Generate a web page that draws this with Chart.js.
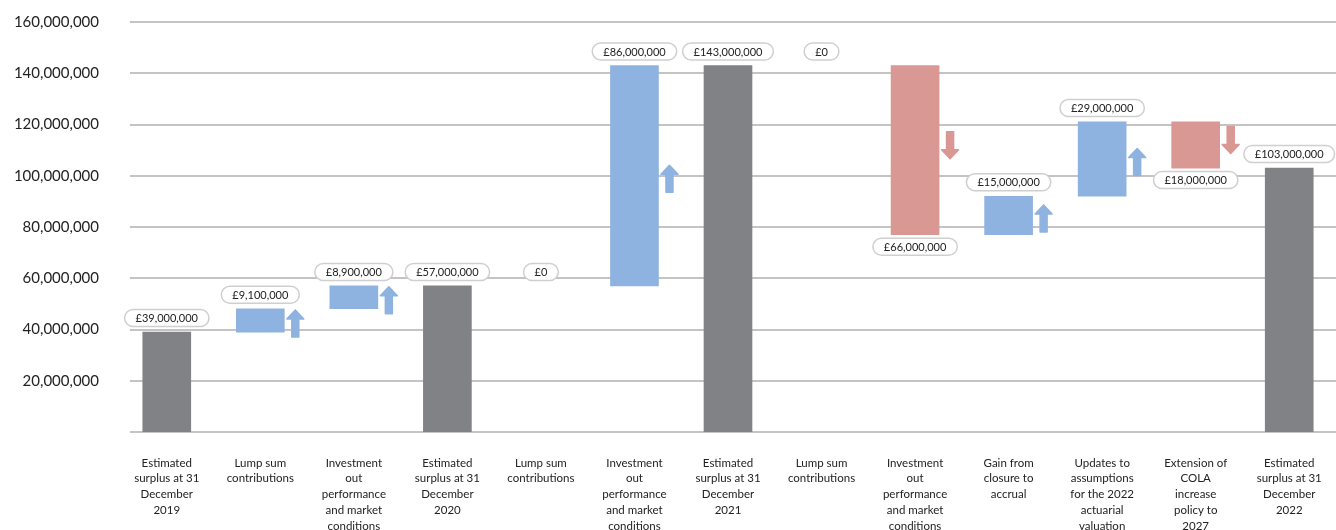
<!DOCTYPE html>
<html>
<head>
<meta charset="utf-8">
<script src="https://cdn.jsdelivr.net/npm/chart.js@4.4.1/dist/chart.umd.min.js"></script>
<style>
  html, body { margin: 0; padding: 0; background: #fff; }
  #wrap { width: 1336px; height: 530px; position: relative; }
</style>
</head>
<body>
<div id="wrap"><canvas id="chart"></canvas></div>
<script>
// Waterfall: surplus movements 2019 -> 2022
const categories = [
  ["Estimated", "surplus at 31", "December", "2019"],
  ["Lump sum", "contributions"],
  ["Investment", "out", "performance", "and market", "conditions"],
  ["Estimated", "surplus at 31", "December", "2020"],
  ["Lump sum", "contributions"],
  ["Investment", "out", "performance", "and market", "conditions"],
  ["Estimated", "surplus at 31", "December", "2021"],
  ["Lump sum", "contributions"],
  ["Investment", "out", "performance", "and market", "conditions"],
  ["Gain from", "closure to", "accrual"],
  ["Updates to", "assumptions", "for the 2022", "actuarial", "valuation"],
  ["Extension of", "COLA", "increase", "policy to", "2027"],
  ["Estimated", "surplus at 31", "December", "2022"],
];
const steps = [39000000, 9100000, 8900000, 57000000, 0, 86000000, 143000000, 0, -66000000, 15000000, 29000000, -18000000, 103000000];
const isTotal = [true, false, false, true, false, false, true, false, false, false, false, false, true];
const yMin = 0;
const yMax = 160000000;
const yStep = 20000000;

const GREY = "#818286";
const BLUE = "#8fb3e0";
const RED = "#d99893";
const FONT = "Lato, 'Open Sans', sans-serif";

// running totals -> floating [from, to] ranges
let level = 0;
const ranges = steps.map((v, i) => {
  if (isTotal[i]) { level = v; return [0, v]; }
  const start = level;
  level += v;
  return [start, level];
});
const colors = steps.map((v, i) => (isTotal[i] ? GREY : v < 0 ? RED : BLUE));

const fmt = (v) => "£" + Math.abs(v).toLocaleString("en-GB");

const gridPlugin = {
  id: "grid",
  beforeDatasetsDraw(chart) {
    const { ctx, chartArea, scales } = chart;
    ctx.save();
    ctx.strokeStyle = "#c4c4c4";
    ctx.lineWidth = 2;
    scales.y.ticks.forEach((t) => {
      const y = Math.round(scales.y.getPixelForValue(t.value));
      ctx.beginPath();
      ctx.moveTo(chartArea.left + 10, y);
      ctx.lineTo(chartArea.right, y);
      ctx.stroke();
    });
    ctx.restore();
  },
};

function pill(ctx, x, y, text) {
  ctx.font = "11px " + FONT;
  const w = ctx.measureText(text).width + 22;
  const h = 17;
  ctx.beginPath();
  ctx.roundRect(x - w / 2, y - h / 2, w, h, h / 2);
  ctx.fillStyle = "#fff";
  ctx.fill();
  ctx.strokeStyle = "#cfcfcf";
  ctx.lineWidth = 1.5;
  ctx.stroke();
  ctx.fillStyle = "#222";
  ctx.textAlign = "center";
  ctx.textBaseline = "middle";
  ctx.fillText(text, x, y + 0.5);
}

function arrow(ctx, x, yMid, up, color) {
  const len = 27, shaft = 7, head = 17, headH = 9;
  const dir = up ? -1 : 1;
  const tip = yMid + dir * len / 2;
  const tail = yMid - dir * len / 2;
  const neck = tip - dir * headH;
  ctx.beginPath();
  ctx.moveTo(x, tip);
  ctx.lineTo(x + head / 2, neck);
  ctx.lineTo(x + shaft / 2, neck);
  ctx.lineTo(x + shaft / 2, tail);
  ctx.lineTo(x - shaft / 2, tail);
  ctx.lineTo(x - shaft / 2, neck);
  ctx.lineTo(x - head / 2, neck);
  ctx.closePath();
  ctx.fillStyle = color;
  ctx.lineJoin = "round";
  ctx.strokeStyle = color;
  ctx.lineWidth = 1.5;
  ctx.fill();
  ctx.stroke();
}

const labelPlugin = {
  id: "labels",
  afterDatasetsDraw(chart) {
    const { ctx, scales } = chart;
    ctx.save();
    steps.forEach((v, i) => {
      const x = scales.x.getPixelForValue(i);
      const [a, b] = ranges[i];
      const top = scales.y.getPixelForValue(Math.max(a, b));
      const bottom = scales.y.getPixelForValue(Math.min(a, b));
      if (!isTotal[i] && v !== 0) {
        arrow(ctx, x + 24 + 11, (top + bottom) / 2 + (v > 0 ? 3 : -5), v > 0, colors[i]);
      }
      const y = v < 0 ? bottom + 12 : top - 14;
      pill(ctx, x, y, fmt(v));
    });
    ctx.restore();
  },
};

new Chart(document.getElementById("chart"), {
  type: "bar",
  data: {
    labels: categories,
    datasets: [
      {
        // zero movements have no bar
        data: ranges.map((r, i) => (steps[i] === 0 ? null : r)),
        backgroundColor: colors,
        borderWidth: 0,
        barThickness: 48,
      },
    ],
  },
  options: {
    responsive: true,
    maintainAspectRatio: false,
    animation: false,
    layout: { padding: { top: 22, right: 0, bottom: 0, left: 0 } },
    plugins: { legend: { display: false }, tooltip: { enabled: false } },
    scales: {
      x: {
        grid: { display: false, drawTicks: false },
        border: { display: false },
        ticks: {
          autoSkip: false,
          maxRotation: 0,
          padding: 23,
          color: "#222",
          font: { family: FONT, size: 11.5, lineHeight: 1.37 },
        },
        afterFit(scale) {
          scale.height = 98;
          scale.paddingLeft = 0;
          scale.paddingRight = 0;
        },
      },
      y: {
        min: yMin,
        max: yMax,
        grid: { display: false, drawTicks: false },
        border: { display: false },
        ticks: {
          stepSize: yStep,
          padding: 21,
          color: "#222",
          font: { family: FONT, size: 15 },
          callback: (v) => (v === 0 ? "" : v.toLocaleString("en-GB")),
        },
        afterFit(scale) {
          scale.width = 120;
          scale.paddingTop = 0;
          scale.paddingBottom = 0;
        },
      },
    },
  },
  plugins: [gridPlugin, labelPlugin],
});
</script>
</body>
</html>
